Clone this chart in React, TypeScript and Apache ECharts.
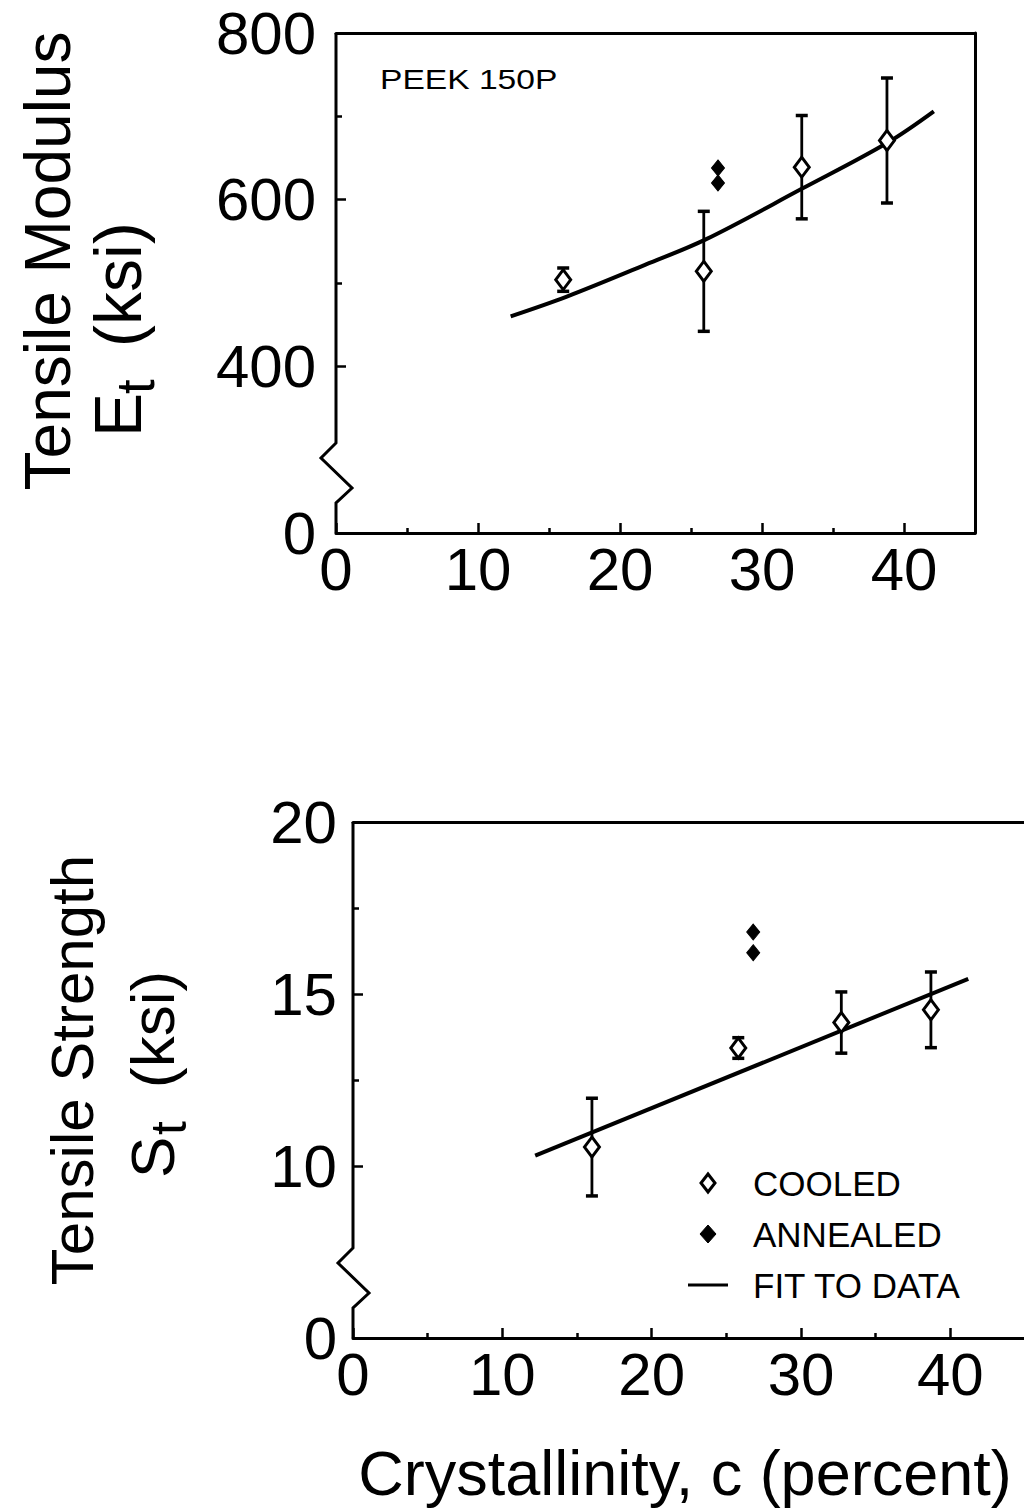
import React, { useEffect, useRef } from 'react';
import * as echarts from 'echarts';

// ---------- data ----------
// Top panel: tensile modulus (ksi) vs crystallinity (percent)
const xCooledModulus = [16.0, 25.9, 32.8, 38.8];
const modulusCooled = [504, 514, 639, 671];
const modulusErr = [14, 72, 62, 75];
const xAnnealedModulus = [26.9, 26.9];
const modulusAnnealed = [638, 620];
const xFitModulus = [12.3, 16.3, 21.8, 26.0, 32.8, 38.8, 42.1];
const modulusFit = [460, 484, 522, 552, 613, 668, 706];

// Bottom panel: tensile strength (ksi) vs crystallinity (percent)
const xCooledStrength = [16.0, 25.8, 32.7, 38.7];
const strengthCooled = [10.55, 13.43, 14.17, 14.54];
const strengthErr = [1.42, 0.3, 0.89, 1.1];
const xAnnealedStrength = [26.8, 26.8];
const strengthAnnealed = [16.8, 16.2];
const xFitStrength = [12.2, 41.2];
const strengthFit = [10.3, 15.44];

// Axes (broken y axes: the lowest value is labelled "0")
const xMajorTicks = [0, 10, 20, 30, 40];
const xMinorTicks = [5, 15, 25, 35];
const modulusBreakBase = 200;
const modulusLabelValues = [200, 400, 600, 800];
const modulusMajorTicks = [400, 600, 800];
const modulusMinorTicks = [500, 700];
const strengthBreakBase = 5;
const strengthLabelValues = [5, 10, 15, 20];
const strengthMajorTicks = [10, 15, 20];
const strengthMinorTicks = [12.5, 17.5];

const legendNames = ['COOLED', 'ANNEALED', 'FIT TO DATA'];

const FONT = '"Liberation Sans", Arial, Helvetica, sans-serif';
const BLACK = '#000';
const AXIS_W = 3;

const zip2 = (a: number[], b: number[]) => a.map((v, i) => [v, b[i]]);
const zip3 = (a: number[], b: number[], c: number[]) => a.map((v, i) => [v, b[i], c[i]]);

function xAxesFor(grid: number, min: number, max: number) {
  const ls = { color: BLACK, width: AXIS_W };
  return [
    {
      gridIndex: grid, type: 'value', min, max, position: 'bottom',
      axisLine: { show: true, onZero: false, lineStyle: ls },
      axisTick: { show: true, inside: true, length: 10, customValues: xMajorTicks, lineStyle: { color: BLACK, width: 2.5 } },
      axisLabel: { show: true, customValues: xMajorTicks, fontSize: 60, color: BLACK, fontFamily: FONT, margin: 6 },
      splitLine: { show: false },
    },
    {
      gridIndex: grid, type: 'value', min, max, position: 'bottom',
      axisLine: { show: false, onZero: false },
      axisTick: { show: true, inside: true, length: 5, customValues: xMinorTicks, lineStyle: { color: BLACK, width: 2.5 } },
      axisLabel: { show: false },
      splitLine: { show: false },
    },
    {
      gridIndex: grid, type: 'value', min, max, position: 'top',
      axisLine: { show: true, onZero: false, lineStyle: ls },
      axisTick: { show: false }, axisLabel: { show: false }, splitLine: { show: false },
    },
  ];
}

function yAxesFor(grid: number, min: number, max: number, labels: number[], major: number[], minor: number[], base: number, margin: number) {
  return [
    {
      gridIndex: grid, type: 'value', min, max, position: 'left',
      axisLine: { show: false, onZero: false },
      axisTick: { show: true, inside: true, length: 10, customValues: major, lineStyle: { color: BLACK, width: 2.5 } },
      axisLabel: {
        show: true, customValues: labels, fontSize: 60, color: BLACK, fontFamily: FONT, margin,
        formatter: (v: number) => (v === base ? '0' : String(v)),
      },
      splitLine: { show: false },
    },
    {
      gridIndex: grid, type: 'value', min, max, position: 'left',
      axisLine: { show: false, onZero: false },
      axisTick: { show: true, inside: true, length: 6, customValues: minor, lineStyle: { color: BLACK, width: 2.5 } },
      axisLabel: { show: false }, splitLine: { show: false },
    },
    {
      gridIndex: grid, type: 'value', min, max, position: 'right',
      axisLine: { show: true, onZero: false, lineStyle: { color: BLACK, width: AXIS_W } },
      axisTick: { show: false }, axisLabel: { show: false }, splitLine: { show: false },
    },
  ];
}

function errorBarItem(params: any, api: any) {
  const x = api.value(0);
  const y = api.value(1);
  const e = api.value(2);
  const top = api.coord([x, y + e]);
  const bot = api.coord([x, y - e]);
  const hw = 6;
  const st = { stroke: BLACK, lineWidth: 2.8 };
  const cap = { stroke: BLACK, lineWidth: 3.5 };
  return {
    type: 'group',
    children: [
      { type: 'line', shape: { x1: top[0], y1: top[1], x2: bot[0], y2: bot[1] }, style: st },
      { type: 'line', shape: { x1: top[0] - hw, y1: top[1], x2: top[0] + hw, y2: top[1] }, style: cap },
      { type: 'line', shape: { x1: bot[0] - hw, y1: bot[1], x2: bot[0] + hw, y2: bot[1] }, style: cap },
    ],
  };
}

function panelSeries(xi: number, yi: number, xc: number[], yc: number[], err: number[], xa: number[], ya: number[], xf: number[], yf: number[], smooth: number) {
  return [
    {
      type: 'custom', name: 'error', xAxisIndex: xi, yAxisIndex: yi,
      renderItem: errorBarItem, data: zip3(xc, yc, err), encode: { x: 0, y: 1 }, z: 2, silent: true,
    },
    {
      type: 'line', name: legendNames[2], xAxisIndex: xi, yAxisIndex: yi,
      data: zip2(xf, yf), showSymbol: false, symbol: 'none', smooth,
      lineStyle: { color: BLACK, width: 4 }, itemStyle: { color: BLACK }, z: 3,
    },
    {
      type: 'scatter', name: legendNames[0], xAxisIndex: xi, yAxisIndex: yi,
      data: zip2(xc, yc), symbol: 'diamond', symbolSize: [15, 20],
      itemStyle: { color: '#fff', borderColor: BLACK, borderWidth: 3, opacity: 1 }, z: 4,
    },
    {
      type: 'scatter', name: legendNames[1], xAxisIndex: xi, yAxisIndex: yi,
      data: zip2(xa, ya), symbol: 'diamond', symbolSize: [13, 16],
      itemStyle: { color: BLACK, borderColor: BLACK, borderWidth: 1, opacity: 1 }, z: 4,
    },
  ];
}

function yTitle(x: number, y: number, main: string, size: number, sym: string, subX: number, subY: number, subSize: number) {
  return [
    {
      type: 'text', x, y, rotation: Math.PI / 2,
      style: { text: main, fill: BLACK, fontSize: size, fontFamily: FONT, textAlign: 'center', textVerticalAlign: 'middle' },
    },
    {
      type: 'group', x: subX, y: subY, rotation: Math.PI / 2,
      children: [
        { type: 'text', x: -112, y: 0, style: { fill: BLACK, fontSize: subSize, fontFamily: FONT, text: sym, textAlign: 'left', textVerticalAlign: 'middle' } },
        { type: 'text', x: -69, y: 17, style: { fill: BLACK, fontSize: subSize * 0.8, fontFamily: FONT, text: 't', textAlign: 'left', textVerticalAlign: 'middle' } },
        { type: 'text', x: -22, y: 0, style: { fill: BLACK, fontSize: subSize, fontFamily: FONT, text: '(ksi)', textAlign: 'left', textVerticalAlign: 'middle' } },
      ],
    },
  ];
}

// Legend of the lower panel (symbols drawn like the series' own markers)
const legendX = 708;
const legendTextX = 753;
const legendY = [1183, 1234, 1285];
const legendFont = 35;
const legendGraphic = [
  { type: 'polygon', shape: { points: [[legendX, legendY[0] - 9], [legendX + 7, legendY[0]], [legendX, legendY[0] + 9], [legendX - 7, legendY[0]]] }, style: { fill: '#fff', stroke: BLACK, lineWidth: 3 } },
  { type: 'polygon', shape: { points: [[legendX, legendY[1] - 9], [legendX + 8, legendY[1]], [legendX, legendY[1] + 9], [legendX - 8, legendY[1]]] }, style: { fill: BLACK, stroke: BLACK, lineWidth: 1 } },
  { type: 'line', shape: { x1: legendX - 20, y1: legendY[2], x2: legendX + 20, y2: legendY[2] }, style: { stroke: BLACK, lineWidth: 3 } },
  ...legendNames.map((name, i) => ({
    type: 'text', x: legendTextX, y: legendY[i],
    style: { text: name, fill: BLACK, fontSize: legendFont, fontFamily: FONT, textAlign: 'left', textVerticalAlign: 'middle' },
  })),
];

const option: any = {
  animation: false,
  backgroundColor: '#fff',
  grid: [
    { left: 336, top: 33, width: 639, height: 500, containLabel: false, outerBoundsMode: 'none' },
    { left: 353, top: 822, width: 672, height: 516, containLabel: false, outerBoundsMode: 'none' },
  ],
  xAxis: [...xAxesFor(0, 0, 45), ...xAxesFor(1, 0, 45)],
  yAxis: [
    ...yAxesFor(0, 200, 800, modulusLabelValues, modulusMajorTicks, modulusMinorTicks, modulusBreakBase, 20),
    ...yAxesFor(1, 5, 20, strengthLabelValues, strengthMajorTicks, strengthMinorTicks, strengthBreakBase, 16),
  ],
  series: [
    ...panelSeries(0, 0, xCooledModulus, modulusCooled, modulusErr, xAnnealedModulus, modulusAnnealed, xFitModulus, modulusFit, 0.35),
    ...panelSeries(3, 3, xCooledStrength, strengthCooled, strengthErr, xAnnealedStrength, strengthAnnealed, xFitStrength, strengthFit, 0),
  ],
  graphic: [
    { type: 'text', x: 380, y: 79, scaleX: 1.2, style: { text: 'PEEK 150P', fill: BLACK, fontSize: 28, fontFamily: FONT, textAlign: 'left', textVerticalAlign: 'middle' } },
    ...yTitle(48, 261, 'Tensile Modulus', 64, 'E', 118, 325, 66),
    ...yTitle(72, 1070, 'Tensile Strength', 60, 'S', 152, 1066, 62),
    { type: 'text', x: 685, y: 1473, style: { text: 'Crystallinity, c (percent)', fill: BLACK, fontSize: 63, fontFamily: FONT, textAlign: 'center', textVerticalAlign: 'middle' } },
    ...legendGraphic,
  ],
};

export default function App() {
  const ref = useRef<HTMLDivElement>(null);
  useEffect(() => {
    const chart = echarts.init(ref.current as HTMLDivElement, null, { renderer: 'svg' });
    chart.setOption(option);
    // Left axis lines with the zig-zag break, positioned through the axes' own scales
    const breakLine = (seriesIndex: number, base: number, top: number) => {
      const b = chart.convertToPixel({ seriesIndex }, [0, base]) as number[];
      const t = chart.convertToPixel({ seriesIndex }, [0, top]) as number[];
      const x0 = b[0];
      const yb = b[1];
      return {
        type: 'polyline', silent: true, z: 10,
        shape: { points: [[x0, yb], [x0, yb - 30], [x0 + 16, yb - 45], [x0 - 15, yb - 75], [x0, yb - 90], [x0, t[1]]] },
        style: { stroke: BLACK, lineWidth: AXIS_W, fill: null },
      };
    };
    chart.setOption({
      graphic: [
        ...option.graphic,
        breakLine(1, modulusBreakBase, 800),
        breakLine(5, strengthBreakBase, 20),
      ],
    });
    return () => chart.dispose();
  }, []);
  return <div ref={ref} style={{ position: 'absolute', left: 0, top: 0, width: 1024, height: 1510, background: '#fff' }} />;
}
